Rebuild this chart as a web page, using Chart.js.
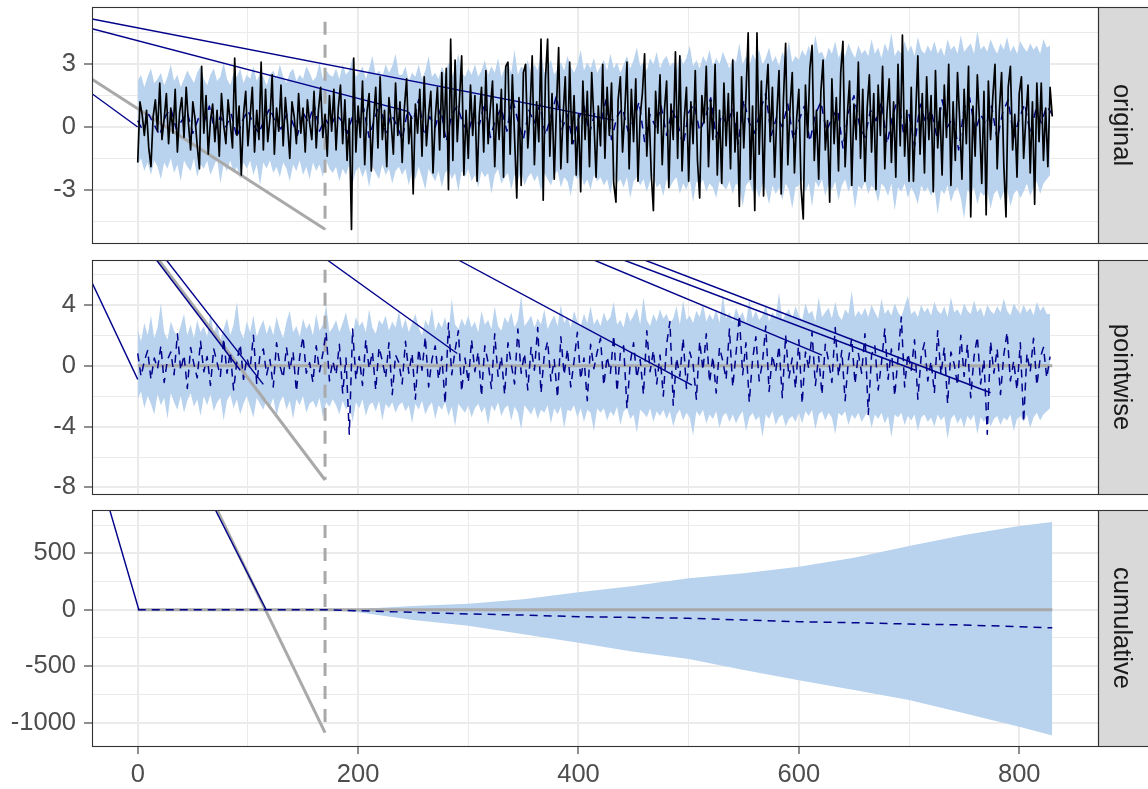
<!DOCTYPE html>
<html>
<head>
<meta charset="utf-8">
<script src="https://cdn.jsdelivr.net/npm/chart.js@4.4.1/dist/chart.umd.min.js"></script>
<style>
  html, body { margin: 0; padding: 0; background: #fff; }
  #wrap { position: relative; width: 1148px; height: 789px; }
  canvas { position: absolute; left: 0; }
</style>
</head>
<body>
<div id="wrap">
  <canvas id="c1" width="1148" height="250" style="top:0px"></canvas>
  <canvas id="c2" width="1148" height="250" style="top:250px"></canvas>
  <canvas id="c3" width="1148" height="289" style="top:500px"></canvas>
</div>
<script>
// ---- data ----
// observed series, one value every 2 time steps (x = 0..830)
var ACTUAL_STEP = 2;
var actual = [
  -1.7, 1.2, 0.6, -0.4, 0.8, -1.0, -1.9, 0.5, 1.3, -0.2, 2.1, -0.6, 0.4, 1.6, -0.8, 0.9, -0.3, 1.8, -1.2, 0.7,
  1.4, -0.5, 1.9, 0.2, -1.1, 1.2, 0.4, -0.9, -2.0, 2.9, -0.3, 1.5, -1.3, 0.3, 1.1, -0.7, 0.8, -1.4, 1.6, 0.1,
  -0.8, 1.3, 0.2, -1.0, 3.3, -0.4, 1.0, -2.3, 0.6, 1.7, -0.9, 0.5, 1.9, -1.2, 0.8, -0.6, 3.1, -1.1, 1.8, -0.7,
  0.4, 2.5, -1.3, 0.9, -0.2, 2.0, -0.9, 1.4, 0.1, -1.5, 1.2, 0.5, -0.8, 1.6, -0.3, 0.9, -1.2, 1.3, 0.2, -0.6,
  1.7, -1.0, 0.8, 1.9, -0.5, 0.6, -1.4, 1.5, -0.2, 1.8, -1.1, 0.9, 2.0, -0.8, 1.3, -1.6, 0.4, -4.9, 3.3, -1.2,
  1.0, -0.5, 2.2, -1.8, 0.7, 1.6, -2.1, 0.3, 1.9, -1.0, 2.4, -0.6, 0.8, -1.9, 1.4, 0.2, -1.3, 2.1, -0.4, 1.2,
  -1.7, 0.9, 2.3, -0.8, 0.5, -3.2, 1.1, -0.3, 1.8, -1.4, 2.4, -0.9, 0.6, 1.7, -2.2, 0.4, 1.9, -1.1, 2.6, -0.5,
  2.8, -3.0, 4.2, -1.6, 3.2, -0.7, 1.3, 3.4, -2.3, 0.8, -1.5, 2.0, -0.4, 1.5, -2.6, 0.6, 1.9, -1.2, 2.7, -0.8,
  0.9, 2.2, -1.9, 1.1, -0.6, 1.8, -2.4, 2.9, 3.1, -1.3, 2.5, -0.5, -3.4, 1.4, -2.8, 2.6, 3.0, -1.0, 0.7, 3.4,
  -1.8, 1.2, -0.7, 4.2, -3.5, 2.3, 4.2, -1.4, 1.6, -2.5, 0.9, 3.8, -2.0, 0.5, 2.4, -1.7, 3.1, -0.8, 1.5, -2.3,
  0.6, -3.1, 2.2, -0.6, 1.7, -1.9, 2.6, 0.3, -2.4, 1.0, -0.9, 3.0, -1.5, 1.9, -0.4, 2.1, -2.7, -3.6, 1.3, 2.4,
  -1.2, 0.7, 3.1, -2.0, 1.8, -0.7, 2.3, -2.6, 0.5, 1.6, 3.5, -1.4, 0.9, -2.2, -4.0, 1.7, -0.3, 2.5, -1.8, 0.8,
  2.2, -2.9, 1.1, -0.6, 3.6, -1.5, 3.4, -2.1, 0.4, 1.9, -2.6, 1.2, -0.8, 2.7, -1.6, -3.4, 1.5, 0.2, 2.9, -1.9,
  1.3, -0.6, 3.0, -2.3, 0.8, -2.7, 2.1, -0.9, 1.6, -2.0, 3.2, -1.2, 0.7, -3.8, 2.4, -1.0, 1.5, 4.5, -2.5, 1.0,
  -4.0, 4.5, -1.3, 2.2, -3.3, 1.4, 3.0, -0.7, 1.9, -2.4, 0.6, 2.7, -3.2, 1.3, 4.0, -1.8, 0.9, 2.6, -2.2, 0.4,
  1.8, -2.9, -4.4, 2.0, -0.5, 2.8, 3.9, -1.6, 0.8, -2.5, 1.7, 3.2, -1.1, 0.3, -3.6, 2.3, -0.8, 1.4, -2.1, 2.6,
  4.1, -1.9, 0.6, 2.2, -2.8, 1.1, -0.6, 3.1, -1.5, 1.8, -2.6, 0.9, 2.5, -1.2, 1.6, -3.0, 2.0, -0.4, 2.9, -2.0,
  0.7, 2.3, -1.7, 1.2, -2.4, 3.0, -0.9, 4.4, -1.4, 0.8, -2.6, 1.9, -2.6, 0.5, 3.4, -1.3, 1.6, -2.2, 2.4, -0.6,
  1.5, -3.1, 2.7, -1.0, 0.9, -2.3, 2.0, -0.5, 3.0, -2.8, 1.2, -1.6, 2.6, 0.3, -2.5, 1.8, -0.8, 2.9, -4.3, 1.0,
  -1.4, 2.5, 0.2, -2.7, 1.7, -4.2, 2.2, -0.6, 1.4, 3.0, -2.0, 0.8, 2.6, -1.8, -4.3, 1.9, 2.9, -1.1, 0.6, -2.4,
  1.6, 2.4, -1.5, 0.4, 2.0, -2.2, 1.2, -3.7, 2.1, -0.7, 2.1, -1.6, 0.9, -1.9, 1.9, 0.5
];

// predicted mean, one value every 5 steps (x = 0..830)
var MEAN_STEP = 5;
var predMean = [
  0.3, -0.2, 0.6, 0.1, -0.4, 0.5, 0.9, -0.1, 0.3, 0.7, -0.3, 0.4, 0.2, 1.0, -0.2, 0.5, 0.0, 0.6, -0.5, 0.3,
  0.8, 0.1, -0.3, 0.4, 0.9, 0.2, -0.1, 0.6, 0.3, -0.4, 0.7, 0.2, 1.1, -0.2, 0.4, 0.0, 0.6, 0.3, -0.3, 0.5,
  0.2, 0.9, -0.5, 0.4, 1.2, -0.3, 0.6, 0.1, -0.6, 0.8, 0.3, 1.3, -0.4, 0.5, 0.0, 0.9, -0.7, 0.6, 1.0, 0.2,
  -0.3, 0.7, 0.1, 1.2, -0.5, 0.4, 0.9, -0.2, 1.4, 0.3, -0.6, 0.8, 0.2, 1.1, -0.4, 0.5, 1.5, -0.1, 0.6, -0.8,
  0.4, 1.0, -0.3, 0.7, 0.1, 1.3, -0.6, 0.5, 0.9, -0.2, 0.3, 1.2, -0.7, 0.6, 0.0, 1.0, -0.4, 0.8, 0.2, -0.9,
  0.7, 1.1, -0.2, 0.4, 1.4, -0.5, 0.6, 0.1, 0.9, -0.8, 1.3, 0.2, -0.3, 0.8, 1.6, -0.4, 0.5, 0.0, 1.1, -0.6,
  0.3, 1.0, -0.7, 0.6, 1.2, -0.2, 0.4, 0.9, -1.0, 0.7, 1.5, 0.1, -0.5, 0.8, 0.3, 1.2, -0.8, 0.5, 1.4, -0.3,
  0.6, -0.9, 1.1, 0.2, 0.8, -0.4, 1.3, 0.0, 0.5, -1.1, 0.9, 1.4, -0.2, 0.6, 0.1, 1.0, -0.6, 0.7, 1.3, -0.5,
  0.4, 1.1, -0.3, 0.8, 0.2, 1.0, 0.6
];

// interval edges, one value every 3 steps (x = 0..828)
var BAND_STEP = 3;
var predUpper = [
  2.2, 2.5, 1.9, 2.4, 2.8, 2.1, 2.3, 2.6, 2.0, 2.4, 3.0, 2.2, 2.5, 1.9, 2.3, 2.7, 2.4, 2.1, 2.6, 2.9,
  2.3, 2.0, 2.5, 2.8, 2.2, 2.4, 3.1, 2.3, 2.0, 2.6, 2.4, 2.8, 2.1, 2.5, 2.3, 2.9, 2.2, 2.6, 2.4, 2.0,
  2.5, 2.7, 2.3, 3.0, 2.4, 2.1, 2.6, 2.8, 2.2, 2.5, 2.3, 2.9, 2.6, 2.2, 2.4, 3.1, 2.3, 2.7, 2.5, 2.4,
  2.8, 2.3, 3.0, 2.5, 2.7, 3.3, 2.4, 2.6, 2.9, 2.3, 2.8, 3.4, 2.5, 2.7, 2.4, 3.0, 2.6, 2.9, 3.5, 2.5,
  2.5, 2.9, 2.2, 2.6, 2.4, 3.0, 2.3, 2.7, 3.4, 2.4, 2.6, 2.3, 2.9, 2.5, 3.1, 2.4, 2.8, 3.5, 2.6, 2.4,
  2.8, 2.5, 3.0, 2.4, 2.7, 3.2, 2.5, 2.9, 2.6, 3.3, 2.4, 2.8, 3.1, 2.6, 3.7, 2.5, 2.9, 2.7, 3.2, 2.6,
  3.0, 2.7, 3.6, 2.6, 2.9, 3.2, 2.5, 2.8, 3.1, 2.7, 3.4, 2.9, 2.6, 3.0, 3.7, 2.7, 3.1, 2.8, 3.3, 2.6,
  2.9, 3.2, 2.7, 3.5, 2.8, 3.1, 2.6, 3.0, 3.4, 2.8, 3.2, 3.8, 2.9, 3.1, 2.7, 3.3, 3.0, 3.6, 2.8, 3.2,
  3.4, 2.9, 3.1, 2.7, 3.5, 3.0, 3.3, 3.9, 2.9, 3.2, 2.8, 3.4, 3.1, 3.7, 2.9, 3.3, 3.0, 3.6, 3.2, 2.8,
  3.3, 3.1, 4.0, 3.0, 3.4, 2.9, 3.5, 3.2, 3.7, 3.0, 3.3, 3.8, 3.1, 3.4, 2.9, 3.6, 3.2, 4.1, 3.1, 3.4,
  3.2, 3.7, 3.4, 3.9, 3.3, 4.4, 3.5, 3.6, 3.2, 3.8, 3.5, 4.1, 3.3, 3.7, 3.4, 4.0, 3.6, 3.3, 3.9, 3.5,
  3.7, 3.4, 4.2, 3.5, 3.8, 3.3, 4.0, 3.6, 4.5, 3.4, 3.7, 3.5, 4.1, 3.6, 3.9, 3.4, 4.3, 3.7, 3.5, 3.9,
  3.6, 4.1, 3.5, 3.8, 3.4, 4.2, 3.7, 3.9, 3.5, 4.4, 3.6, 3.8, 4.0, 3.5, 4.6, 3.7, 3.9, 3.6, 4.2, 3.8,
  3.5, 4.0, 3.7, 4.3, 3.6, 3.9, 3.5, 4.1, 3.8, 3.6, 4.0, 3.7, 3.9, 3.5, 4.2, 3.8, 3.9
];
var predLower = [
  -1.8, -1.5, -2.1, -1.7, -2.3, -1.6, -1.9, -2.5, -1.7, -2.0, -1.5, -2.2, -1.8, -2.6, -1.6, -1.9, -2.1, -1.5, -2.4, -1.8,
  -2.0, -1.6, -2.3, -1.9, -1.5, -2.7, -1.8, -2.1, -1.6, -2.2, -1.9, -2.5, -1.7, -2.0, -1.6, -2.3, -1.8, -2.8, -1.7, -2.0,
  -1.6, -2.2, -1.9, -2.4, -1.7, -2.0, -2.6, -1.8, -2.1, -1.6, -2.3, -1.9, -2.5, -1.7, -2.1, -1.8, -2.4, -1.6, -2.0, -2.2,
  -1.9, -2.6, -2.0, -2.3, -1.8, -2.7, -2.1, -1.9, -2.4, -2.0, -2.9, -1.9, -2.2, -2.5, -1.8, -2.3, -2.0, -2.7, -2.1, -1.9,
  -2.3, -2.0, -2.8, -2.1, -2.5, -1.9, -2.4, -3.0, -2.0, -2.3, -2.6, -2.1, -2.9, -2.2, -2.0, -2.5, -2.2, -3.1, -2.1, -2.4,
  -2.0, -2.6, -2.3, -2.9, -2.1, -2.4, -2.2, -3.2, -2.3, -2.0, -2.7, -2.4, -2.2, -3.0, -2.3, -2.6, -2.1, -2.8, -2.4, -2.2,
  -2.6, -2.3, -3.1, -2.2, -2.5, -2.8, -2.3, -2.1, -2.9, -2.4, -2.6, -3.3, -2.3, -2.5, -2.2, -2.8, -2.5, -3.0, -2.3, -2.6,
  -2.4, -2.8, -2.5, -3.2, -2.3, -2.7, -2.5, -2.9, -2.4, -3.4, -2.6, -2.4, -2.8, -2.5, -3.1, -2.6, -2.3, -2.9, -2.7, -3.3,
  -2.5, -2.9, -2.6, -2.4, -3.2, -2.7, -3.0, -2.5, -3.6, -2.6, -2.8, -2.5, -3.1, -2.7, -2.9, -3.4, -2.6, -2.8, -3.0, -2.6,
  -3.2, -2.7, -2.9, -3.8, -2.8, -2.6, -3.1, -2.9, -3.4, -2.7, -3.0, -3.7, -2.8, -3.2, -2.9, -3.5, -2.7, -3.0, -3.9, -2.9,
  -2.8, -2.5, -3.1, -2.7, -3.8, -2.6, -2.9, -2.5, -3.3, -2.7, -3.0, -2.6, -3.5, -2.8, -2.5, -3.1, -2.7, -3.9, -2.8, -3.0,
  -2.6, -3.2, -2.8, -3.0, -3.6, -2.7, -2.9, -3.3, -2.7, -4.0, -2.9, -3.1, -2.7, -3.4, -2.9, -3.2, -3.7, -2.8, -3.1, -2.9,
  -3.3, -2.9, -4.2, -3.0, -3.2, -2.8, -3.6, -3.1, -2.9, -3.4, -4.4, -3.0, -3.2, -2.9, -3.7, -3.1, -3.3, -3.0, -3.9, -3.2,
  -3.0, -3.5, -3.1, -2.9, -3.8, -3.2, -3.0, -3.4, -3.1, -2.7, -3.3, -2.9, -2.6, -3.2, -2.7, -2.5, -2.3
];

// pointwise effect, one value every 3 steps (x = 0..828)
var POINT_STEP = 3;
var pointEffect = [
  0.8, -0.7, 0.3, 1.0, -0.9, 0.5, -0.2, 1.3, -1.1, 0.4, 0.9, -0.6, 2.1, -0.3, 0.7, -1.5, 1.2, 0.1, -0.8, 1.6,
  -0.4, 0.6, -1.3, 1.1, 0.2, -0.7, 1.8, -0.5, 0.9, -1.6, 0.3, 1.4, -0.9, 0.5, -0.2, 2.0, -1.2, 0.7, 1.1, -0.6,
  0.4, -1.4, 1.5, 0.0, -0.8, 1.2, -0.3, 0.9, -1.7, 0.6, 1.9, -0.5, 0.2, -1.1, 1.3, -0.4, 0.8, 2.2, -1.0, 0.3,
  -0.6, 1.4, -1.8, 0.5, -4.5, 2.4, -0.9, 0.6, -1.3, 1.7, -0.2, 0.9, -1.6, 1.2, 0.3, -0.8, 1.5, -1.9, 0.7, 0.2,
  -1.2, 1.6, -0.5, 0.8, -2.2, 1.1, -0.3, 1.9, -1.4, 0.4, 1.3, -0.9, 0.6, -2.5, 2.8, -0.6, 1.0, 2.3, -1.7, 0.5,
  -1.1, 1.7, -0.4, 0.9, -2.0, 1.3, 0.2, -1.5, 2.1, -0.7, 0.6, -1.9, 1.5, 0.1, -1.2, 2.4, -0.5, 0.8, -1.6, 1.2,
  -0.3, 2.5, -1.8, 0.7, 1.6, -1.0, 0.4, -2.1, 1.9, -0.6, 1.1, -1.4, 0.3, 2.2, -0.9, 0.5, -2.3, 1.4, -0.2, 0.9,
  1.8, -1.3, 0.6, -0.5, 2.0, -1.7, 0.8, 1.3, -2.8, 0.2, 1.5, -0.8, 0.4, -1.9, 2.3, -0.4, 1.0, -1.2, 0.7, -2.0,
  1.4, 2.9, -2.6, 0.5, -0.7, 1.8, -1.5, 0.9, 0.1, -2.2, 1.6, -0.3, 2.1, -1.1, 0.6, -1.8, 1.2, 0.3, -0.9, 2.4,
  -1.4, 0.8, 3.3, -0.6, 1.5, -2.4, 0.4, 1.9, -1.0, 0.2, 2.6, -1.7, 0.7, -0.4, 1.3, -2.1, 2.0, -0.8, 0.5, -1.5,
  1.7, -2.5, 0.9, -0.2, 2.2, -1.3, 0.6, -1.9, 1.4, 0.3, -1.1, 2.5, -0.7, 1.0, -2.3, 0.4, 1.8, -1.2, 0.8, -0.5,
  2.1, -3.2, 0.7, 1.3, -1.6, 0.2, 2.4, -0.9, 1.1, -2.0, 0.5, 3.2, -1.4, 0.8, -0.3, 1.7, -2.2, 0.6, 1.5, -1.0,
  0.3, -1.8, 2.3, -0.6, 1.2, -2.5, 0.9, 0.1, -1.3, 2.0, -0.7, 1.4, -2.1, 0.6, 1.9, -1.2, 0.4, -4.5, 1.6, -0.5,
  1.1, -1.9, 0.7, 2.2, -1.0, 0.3, -1.6, 1.5, -3.7, 0.8, -0.4, 1.8, -1.3, 0.5, 1.2, -0.8, 0.6
];
var pointUpper = [
  2.4, 1.6, 2.8, 2.0, 3.3, 1.8, 2.5, 4.1, 2.2, 1.7, 2.9, 2.3, 1.9, 2.6, 3.4, 2.0, 2.7, 1.8, 3.0, 2.2,
  2.6, 1.9, 3.5, 2.1, 2.8, 1.7, 2.4, 3.1, 2.0, 2.7, 4.2, 2.3, 1.8, 2.9, 2.2, 3.3, 1.9, 2.5, 3.0, 2.1,
  2.7, 2.0, 3.2, 2.4, 1.8, 2.9, 3.6, 2.2, 2.6, 1.9, 3.1, 2.4, 2.8, 2.0, 3.4, 2.3, 2.7, 4.0, 2.2, 2.5,
  3.0, 2.2, 2.8, 3.5, 2.4, 2.0, 3.2, 2.6, 2.9, 2.2, 3.7, 2.5, 2.1, 3.0, 2.7, 3.3, 2.3, 2.9, 2.5, 3.6,
  2.4, 3.1, 2.2, 2.8, 3.4, 2.5, 2.0, 3.0, 2.6, 3.8, 2.3, 2.9, 2.5, 3.2, 2.1, 4.4, 2.7, 2.4, 3.1, 2.6,
  3.3, 2.5, 2.9, 2.2, 3.6, 2.7, 3.0, 2.4, 3.9, 2.6, 2.3, 3.2, 2.8, 3.5, 2.5, 3.0, 4.6, 2.6, 2.9, 3.3,
  2.5, 3.1, 2.7, 3.7, 2.4, 2.9, 3.3, 2.6, 4.0, 2.8, 3.2, 2.5, 3.6, 2.9, 2.6, 3.4, 2.8, 3.9, 2.7, 3.1,
  2.6, 3.5, 2.9, 3.2, 4.2, 2.7, 3.0, 2.5, 3.6, 2.9, 3.3, 3.8, 2.7, 4.5, 3.0, 2.6, 3.4, 2.9, 3.7, 3.1,
  3.4, 2.8, 3.1, 3.9, 2.7, 4.3, 3.0, 3.3, 2.8, 3.6, 3.2, 4.1, 2.9, 3.4, 3.0, 3.7, 2.8, 4.7, 3.1, 3.5,
  2.9, 3.8, 3.2, 3.5, 2.8, 4.4, 3.1, 3.6, 3.0, 3.3, 4.0, 2.9, 3.5, 3.2, 4.8, 3.0, 3.4, 3.7, 3.1, 3.9,
  3.3, 3.0, 4.1, 3.4, 3.6, 2.9, 4.5, 3.2, 3.5, 3.8, 3.1, 4.2, 3.3, 3.0, 3.7, 3.4, 4.9, 3.2, 3.6, 3.3,
  3.8, 3.2, 4.0, 3.5, 3.1, 4.4, 3.4, 3.7, 3.3, 4.1, 3.5, 3.2, 3.9, 4.6, 3.4, 3.6, 3.2, 4.0, 3.5, 3.8,
  3.3, 4.2, 3.6, 3.4, 3.9, 3.2, 4.5, 3.5, 3.7, 3.3, 4.1, 3.6, 3.4, 4.3, 3.5, 3.8, 3.2, 4.0, 3.6, 3.4,
  3.9, 3.5, 4.4, 3.6, 3.3, 4.1, 3.7, 3.4, 4.0, 3.5, 3.8, 3.3, 4.2, 3.6, 3.9, 3.4, 3.4
];
var pointLower = [
  -2.2, -1.7, -2.8, -2.0, -2.5, -3.2, -1.9, -2.6, -2.1, -3.5, -1.8, -2.4, -2.9, -2.0, -3.1, -2.3, -1.8, -2.7, -2.2, -3.3,
  -2.0, -2.6, -1.9, -3.0, -2.4, -2.1, -3.6, -2.3, -1.9, -2.8, -2.2, -3.2, -2.5, -2.0, -2.7, -3.4, -2.1, -2.5, -2.9, -2.2,
  -2.7, -2.1, -3.3, -2.4, -2.0, -2.9, -2.3, -3.5, -2.2, -2.6, -2.0, -3.1, -2.5, -2.3, -2.8, -2.1, -3.4, -2.4, -2.7, -2.2,
  -2.6, -3.2, -2.3, -2.9, -2.5, -3.7, -2.4, -2.8, -2.2, -3.3, -2.6, -2.4, -3.0, -2.3, -3.6, -2.5, -2.8, -2.4, -3.1, -2.6,
  -2.4, -3.0, -2.6, -3.8, -2.5, -2.9, -2.3, -3.2, -2.7, -2.4, -3.5, -2.6, -2.9, -2.4, -3.3, -2.7, -4.0, -2.5, -2.8, -3.1,
  -2.6, -3.4, -2.8, -2.5, -3.1, -2.7, -3.9, -2.6, -3.0, -2.4, -3.3, -2.8, -2.6, -3.6, -2.7, -3.1, -4.2, -2.6, -2.9, -3.2,
  -2.7, -3.5, -2.9, -3.1, -2.6, -3.8, -2.8, -3.2, -2.7, -4.1, -2.9, -3.0, -2.6, -3.4, -2.8, -3.7, -2.9, -3.1, -4.3, -2.8,
  -3.1, -2.8, -3.6, -3.0, -3.3, -2.7, -3.9, -3.0, -2.8, -3.5, -3.2, -4.4, -2.9, -3.1, -3.4, -2.8, -3.7, -3.0, -3.3, -2.9,
  -3.5, -3.0, -4.0, -3.2, -2.9, -3.6, -3.1, -3.4, -4.6, -3.0, -3.3, -2.9, -3.8, -3.2, -3.5, -3.0, -4.1, -3.3, -3.1, -3.7,
  -3.2, -3.8, -3.3, -3.0, -4.3, -3.4, -3.1, -3.6, -3.3, -4.7, -3.2, -3.5, -3.0, -3.9, -3.4, -3.2, -4.0, -3.5, -3.3, -3.7,
  -3.1, -3.8, -3.0, -3.3, -2.9, -4.2, -3.2, -3.0, -3.6, -3.1, -3.4, -4.5, -3.1, -3.3, -3.0, -3.9, -3.2, -3.5, -3.1, -3.7,
  -3.3, -3.0, -4.1, -3.2, -3.5, -3.1, -3.8, -3.3, -4.7, -3.2, -3.4, -3.1, -3.9, -3.3, -3.6, -3.2, -4.3, -3.4, -3.2, -3.7,
  -3.4, -4.0, -3.2, -3.6, -3.3, -4.8, -3.5, -3.2, -3.8, -3.4, -4.1, -3.3, -3.6, -3.2, -4.5, -3.4, -3.7, -3.3, -4.0, -3.5,
  -3.3, -3.9, -3.4, -3.6, -3.2, -4.3, -3.5, -3.3, -3.7, -3.2, -4.1, -3.4, -3.1, -3.6, -3.2, -3.0, -2.8
];

// cumulative effect
var cumX     = [0, 170, 200, 250, 300, 350, 400, 450, 500, 550, 600, 650, 700, 750, 800, 830];
var cumMean  = [0, 0, -9, -23, -38, -47, -62, -68, -76, -91, -106, -115, -127, -135, -151, -160];
var cumUpper = [0, 0, 6, 33, 53, 92, 154, 210, 278, 323, 381, 461, 565, 662, 742, 777];
var cumLower = [0, 0, -23, -91, -142, -218, -292, -372, -437, -535, -626, -712, -800, -918, -1037, -1114];

// stray straight segments in the picture: [x0, y0, x1, y1]
var origBlueLinks  = [[-41.5, 5.17, 432, 0.33], [-41.5, 4.70, 245, 0.75], [-41.5, 1.59, 0, 0]];
var origGreyLink   = [-41.5, 2.28, 170, -4.89];
var pointBlueLinks = [[-41.5, 5.46, 0, -0.9], [17, 6.94, 93, -0.3], [26, 6.94, 114, -1.23],
                      [172, 6.94, 290, 0.8], [291, 6.94, 503, -1.28], [414, 6.94, 621, 0.69],
                      [441, 6.94, 706, -0.3], [460, 6.94, 774, -1.78]];
var pointGreyLink  = [19, 6.94, 170, -7.51];
var cumBlueLinks   = [[-25.4, 884, 1, 0], [70.5, 884, 116.5, 0]];
var cumGreyLink    = [72, 884, 170, -1090];

// intervention line and zero baselines
var interventionX = 170;
var origVline  = [5.04, -4.9];
var pointVline = [6.3, -7.5];
var cumVline   = [750, -1000];
var zeroSpan   = [0, 830];

// axes
var xRange = [-41.5, 871.5];
var xMajor = [0, 200, 400, 600, 800];
var xMinor = [100, 300, 500, 700];
var origRange = [-5.55, 5.74], origMajor = [-3, 0, 3], origMinor = [-4.5, -1.5, 1.5, 4.5];
var pointRange = [-8.43, 6.94], pointMajor = [-8, -4, 0, 4], pointMinor = [-6, -2, 2, 6];
var cumRange = [-1208, 884], cumMajor = [-1000, -500, 0, 500], cumMinor = [-750, -250, 250, 750];

// ---- styling ----
var FONT = '"Liberation Sans", Arial, Helvetica, sans-serif';
var BAND = '#b9d3ee', DARKBLUE = '#00008b', DARKGREY = '#a9a9a9';

function pts(values, step) {
  return values.map(function(v, i) { return {x: i * step, y: v}; });
}
function pairs(xs, ys) {
  return xs.map(function(x, i) { return {x: x, y: ys[i]}; });
}
function seg(s) {
  return [{x: s[0], y: s[1]}, {x: s[2], y: s[3]}];
}
function line(data, color, width, dash, order) {
  return {data: data, borderColor: color, borderWidth: width, borderDash: dash || [],
          fill: false, order: order, borderCapStyle: 'butt', borderJoinStyle: 'round'};
}
function band(lo, hi) {
  return [
    {data: lo, borderColor: 'rgba(0,0,0,0)', borderWidth: 0, fill: false, order: 9},
    {data: hi, borderColor: 'rgba(0,0,0,0)', borderWidth: 0, fill: '-1', backgroundColor: BAND, order: 9}
  ];
}
function vline(ys) {
  return line([{x: interventionX, y: ys[0]}, {x: interventionX, y: ys[1]}], DARKGREY, 3, [13, 10], 6);
}
function zeroLine() {
  return line([{x: zeroSpan[0], y: 0}, {x: zeroSpan[1], y: 0}], DARKGREY, 3, [], 7);
}

var stripPlugin = {
  id: 'strip',
  afterDraw: function(chart, args, opts) {
    var ctx = chart.ctx, a = chart.chartArea, w = chart.width;
    ctx.save();
    ctx.fillStyle = '#d9d9d9';
    ctx.fillRect(a.right, a.top, w - a.right, a.bottom - a.top);
    ctx.strokeStyle = '#333333';
    ctx.lineWidth = 1.1;
    ctx.strokeRect(a.left + 0.5, a.top + 0.5, a.right - a.left, a.bottom - a.top);
    ctx.strokeRect(a.right + 0.5, a.top + 0.5, w - a.right + 4, a.bottom - a.top);
    ctx.translate(a.right + (w - a.right) / 2 - 2, (a.top + a.bottom) / 2);
    ctx.rotate(Math.PI / 2);
    ctx.fillStyle = '#1a1a1a';
    ctx.font = '25.5px ' + FONT;
    ctx.textAlign = 'center';
    ctx.textBaseline = 'middle';
    ctx.fillText(opts.label, 0, 0);
    ctx.restore();
  }
};

function axis(range, major, minor, isX, showLabels, size) {
  var all = major.concat(minor).sort(function(a, b) { return a - b; });
  var isMajor = function(c) { return c.tick && major.indexOf(c.tick.value) >= 0; };
  return {
    type: 'linear', min: range[0], max: range[1],
    afterBuildTicks: function(s) { s.ticks = all.map(function(v) { return {value: v}; }); },
    afterFit: function(s) {
      if (isX) { s.height = size; } else { s.width = size; }
      // no extra room for half labels at the ends
      s.paddingTop = 0; s.paddingBottom = 0; s.paddingLeft = 0; s.paddingRight = 0;
    },
    border: {display: false},
    grid: {
      color: '#ebebeb',
      lineWidth: function(c) { return isMajor(c) ? 2 : 1; },
      drawTicks: showLabels, tickLength: 8, tickWidth: 1.1,
      tickColor: function(c) { return isMajor(c) ? '#333333' : 'rgba(0,0,0,0)'; }
    },
    ticks: {
      display: showLabels, autoSkip: false, maxRotation: 0, padding: isX ? 6 : 8,
      color: '#4d4d4d', font: {family: FONT, size: 25.5},
      callback: function(v) { return major.indexOf(v) >= 0 ? String(v) : ''; }
    }
  };
}

function panel(id, label, yRange, yMajor, yMinor, datasets, pad, showX) {
  return new Chart(document.getElementById(id), {
    type: 'line',
    data: {datasets: datasets},
    options: {
      responsive: false, animation: false, events: [],
      layout: {padding: {left: 0, right: 50, top: pad[0], bottom: pad[1]}},
      elements: {point: {radius: 0}, line: {tension: 0}},
      plugins: {legend: {display: false}, tooltip: {enabled: false}, strip: {label: label}},
      scales: {
        x: axis(xRange, xMajor, xMinor, true, showX, showX ? 43 : 0),
        y: axis(yRange, yMajor, yMinor, false, true, 92)
      }
    },
    plugins: [stripPlugin]
  });
}

// ---- panel 1: original ----
var ds1 = band(pts(predLower, BAND_STEP), pts(predUpper, BAND_STEP));
ds1.push(line(seg(origGreyLink), DARKGREY, 3, [], 7));
ds1.push(vline(origVline));
ds1.push(line(pts(predMean, MEAN_STEP), DARKBLUE, 1.5, [8, 6], 5));
origBlueLinks.forEach(function(s) { ds1.push(line(seg(s), DARKBLUE, 1.4, [], 4)); });
ds1.push(line(pts(actual, ACTUAL_STEP), '#000000', 1.7, [], 1));
panel('c1', 'original', origRange, origMajor, origMinor, ds1, [7, 7], false);

// ---- panel 2: pointwise ----
var ds2 = band(pts(pointLower, BAND_STEP), pts(pointUpper, BAND_STEP));
ds2.push(zeroLine());
ds2.push(line(seg(pointGreyLink), DARKGREY, 3, [], 7));
ds2.push(vline(pointVline));
ds2.push(line(pts(pointEffect, POINT_STEP), DARKBLUE, 1.5, [8, 6], 5));
pointBlueLinks.forEach(function(s) { ds2.push(line(seg(s), DARKBLUE, 1.4, [], 4)); });
panel('c2', 'pointwise', pointRange, pointMajor, pointMinor, ds2, [10, 6], false);

// ---- panel 3: cumulative ----
var ds3 = band(pairs(cumX, cumLower), pairs(cumX, cumUpper));
ds3.push(zeroLine());
ds3.push(line(seg(cumGreyLink), DARKGREY, 3, [], 7));
ds3.push(vline(cumVline));
ds3.push(line(pairs(cumX, cumMean), DARKBLUE, 1.5, [8, 6], 5));
cumBlueLinks.forEach(function(s) { ds3.push(line(seg(s), DARKBLUE, 1.4, [], 4)); });
panel('c3', 'cumulative', cumRange, cumMajor, cumMinor, ds3, [10, 0], true);
</script>
</body>
</html>
